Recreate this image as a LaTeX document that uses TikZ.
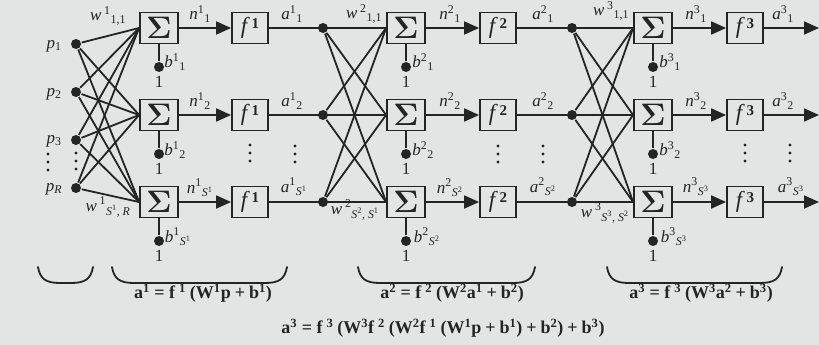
\documentclass[tikz,border=0pt]{standalone}
\usepackage[no-math]{fontspec}
\setmainfont{Liberation Serif}
\usetikzlibrary{arrows.meta}
\definecolor{bg}{RGB}{226,229,228}
\definecolor{ink}{RGB}{36,36,36}
\newcommand{\sps}[1]{\textsuperscript{#1}}
\newcommand{\sbs}[1]{\textsubscript{#1}}
\newcommand{\gp}{\hspace{4pt}}
\newcommand{\fsym}[1]{{\fontsize{23}{23}\selectfont\textit{f}}\hspace{1.5pt}\raisebox{5pt}{\fontsize{15}{15}\selectfont\textbf{#1}}}
\newcommand{\sigsym}{\scalebox{1.25}{$\mathbf{\Sigma}$}}
\begin{document}
\begin{tikzpicture}[x=1pt,y=-1pt, line width=1.8pt,
  sumbox/.style={draw=ink, text=ink, minimum width=38pt, minimum height=31pt, inner sep=0pt, line width=1.8pt, font=\fontsize{24}{24}\selectfont},
  fnbox/.style={draw=ink, text=ink, minimum width=36pt, minimum height=31pt, inner sep=0pt, line width=1.8pt},
  dot/.style={circle, fill=ink, inner sep=0pt, minimum size=10pt},
  lab/.style={text=ink, inner sep=0pt, font=\fontsize{17}{17}\selectfont},
  eqn/.style={text=ink, inner sep=0pt, font=\fontsize{18}{18}\selectfont\bfseries},
  arr/.style={draw=ink, -{Triangle[length=15pt,width=13pt]}},
  wire/.style={draw=ink, line width=1.8pt},
  brace/.style={draw=ink, line width=1.8pt, line cap=round},
]
\fill[bg] (0,0) rectangle (819,345);
\useasboundingbox (0,0) rectangle (819,345);

% ---- neurons of the three layers
\foreach \L/\sx/\fx in {1/159/250, 2/406/498, 3/653/745} {
  \foreach \r/\y in {1/28, 2/115, 3/202} {
    \node[sumbox] (s\L\r) at (\sx,\y) {\sigsym};
    \node[fnbox] (f\L\r) at (\fx,\y) {\fsym{\L}};
    \draw[arr] (s\L\r) -- (f\L\r);
    \node[dot] (bd\L\r) at (\sx,\y+39) {};
    \draw[wire] (s\L\r.south) -- (bd\L\r);
    \node[lab] (one\L\r) at (\sx,\y+54) {1};
  }
}

% ---- inputs
\node[dot] (p1) at (76,44) {};
\node[dot] (p2) at (76,92) {};
\node[dot] (p3) at (76,140) {};
\node[dot] (pR) at (76,188) {};
\foreach \i in {p1,p2,p3,pR}
  \foreach \j in {1,2,3}
    \draw[wire] (\i) -- (s1\j.west);
\node[lab] (lp1) at (54,46) {\textit{p}\sbs{1}};
\node[lab] (lp2) at (54,94) {\textit{p}\sbs{2}};
\node[lab] (lp3) at (54,141) {\textit{p}\sbs{3}};
\node[lab] (lpR) at (54,189) {\textit{p}\sbs{\textit{R}}};

% ---- layer 2 and 3 inputs
\foreach \r/\y in {1/28, 2/115, 3/202} {
  \node[dot] (d2\r) at (323,\y) {};
  \node[dot] (d3\r) at (572,\y) {};
  \draw[wire] (f1\r.east) -- (s2\r.west);
  \draw[wire] (f2\r.east) -- (s3\r.west);
  \coordinate (o\r) at (819,\y);
  \draw[arr] (f3\r.east) -- (o\r);
}
\foreach \i/\j in {1/2,1/3,2/1,2/3,3/1,3/2} {
  \draw[wire] (d2\i) -- (s2\j.west);
  \draw[wire] (d3\i) -- (s3\j.west);
}

% ---- vertical dots
\foreach \x/\y in {48/154, 76/153, 250/145, 295/146, 498/146, 543/146, 745/145, 790/145}
  \foreach \k in {0,8,16}
    \fill[ink] (\x,\y+\k) circle (1.7pt);

% ---- labels layer 1
\node[lab] (w1a) at (108,16) {\textit{w}\,\sps{1}\sbs{1,1}};
\node[lab] (w1b) at (108,207) {\textit{w}\,\sps{1}\sbs{\textit{S}\sps{1}\textit{, R}}};
\node[lab] (n11) at (200,14) {\textit{n}\sps{1}\sbs{1}};
\node[lab] (n12) at (200,101) {\textit{n}\sps{1}\sbs{2}};
\node[lab] (n13) at (200,188) {\textit{n}\sps{1}\sbs{\textit{S}\sps{1}}};
\node[lab] (b11) at (175,62) {\textit{b}\sps{1}\sbs{1}};
\node[lab] (b12) at (175,150) {\textit{b}\sps{1}\sbs{2}};
\node[lab] (b13) at (178,237) {\textit{b}\sps{1}\sbs{\textit{S}\sps{1}}};
\node[lab] (a11) at (292,14) {\textit{a}\sps{1}\sbs{1}};
\node[lab] (a12) at (292,101) {\textit{a}\sps{1}\sbs{2}};
\node[lab] (a13) at (294,187) {\textit{a}\sps{1}\sbs{\textit{S}\sps{1}}};

% ---- labels layer 2
\node[lab] (w2a) at (364,14) {\textit{w}\,\sps{2}\sbs{1,1}};
\node[lab] (w2b) at (355,210) {\textit{w}\,\sps{2}\sbs{\textit{S}\sps{2}\textit{, S}\sps{1}}};
\node[lab] (n21) at (450,14) {\textit{n}\sps{2}\sbs{1}};
\node[lab] (n22) at (450,101) {\textit{n}\sps{2}\sbs{2}};
\node[lab] (n23) at (450,188) {\textit{n}\sps{2}\sbs{\textit{S}\sps{2}}};
\node[lab] (b21) at (423,62) {\textit{b}\sps{2}\sbs{1}};
\node[lab] (b22) at (423,150) {\textit{b}\sps{2}\sbs{2}};
\node[lab] (b23) at (427,237) {\textit{b}\sps{2}\sbs{\textit{S}\sps{2}}};
\node[lab] (a21) at (543,14) {\textit{a}\sps{2}\sbs{1}};
\node[lab] (a22) at (543,101) {\textit{a}\sps{2}\sbs{2}};
\node[lab] (a23) at (543,187) {\textit{a}\sps{2}\sbs{\textit{S}\sps{2}}};

% ---- labels layer 3
\node[lab] (w3a) at (611,11) {\textit{w}\,\sps{3}\sbs{1,1}};
\node[lab] (w3b) at (605,213) {\textit{w}\,\sps{3}\sbs{\textit{S}\sps{3}\textit{, S}\sps{2}}};
\node[lab] (n31) at (696,14) {\textit{n}\sps{3}\sbs{1}};
\node[lab] (n32) at (696,101) {\textit{n}\sps{3}\sbs{2}};
\node[lab] (n33) at (696,187) {\textit{n}\sps{3}\sbs{\textit{S}\sps{3}}};
\node[lab] (b31) at (670,62) {\textit{b}\sps{3}\sbs{1}};
\node[lab] (b32) at (670,150) {\textit{b}\sps{3}\sbs{2}};
\node[lab] (b33) at (674,237) {\textit{b}\sps{3}\sbs{\textit{S}\sps{3}}};
\node[lab] (a31) at (783,14) {\textit{a}\sps{3}\sbs{1}};
\node[lab] (a32) at (783,101) {\textit{a}\sps{3}\sbs{2}};
\node[lab] (a33) at (791,187) {\textit{a}\sps{3}\sbs{\textit{S}\sps{3}}};

% ---- braces
\foreach \xa/\xb in {38/93, 112/287, 358/535, 607/782}
  \draw[brace] (\xa,267) .. controls (\xa+2,279) and (\xa+8,283) .. (\xa+22,283)
     -- (\xb-22,283) .. controls (\xb-8,283) and (\xb-2,279) .. (\xb,267);

% ---- equations
\node[eqn] (eq1) at (203,293) {a\sps{1} = f\gp\sps{1}\gp(W\sps{1}p\gp+\gp b\sps{1})};
\node[eqn] (eq2) at (452,293) {a\sps{2} = f\gp\sps{2}\gp(W\sps{2}a\sps{1}\gp+\gp b\sps{2})};
\node[eqn] (eq3) at (701,293) {a\sps{3} = f\gp\sps{3}\gp(W\sps{3}a\sps{2}\gp+\gp b\sps{3})};
\node[eqn] (eq4) at (443,328) {a\sps{3} = f\gp\sps{3}\gp(W\sps{3}f\gp\sps{2}\gp(W\sps{2}f\gp\sps{1}\gp(W\sps{1}p\gp+\gp b\sps{1})\gp+\gp b\sps{2})\gp+\gp b\sps{3})};
\end{tikzpicture}
\end{document}
